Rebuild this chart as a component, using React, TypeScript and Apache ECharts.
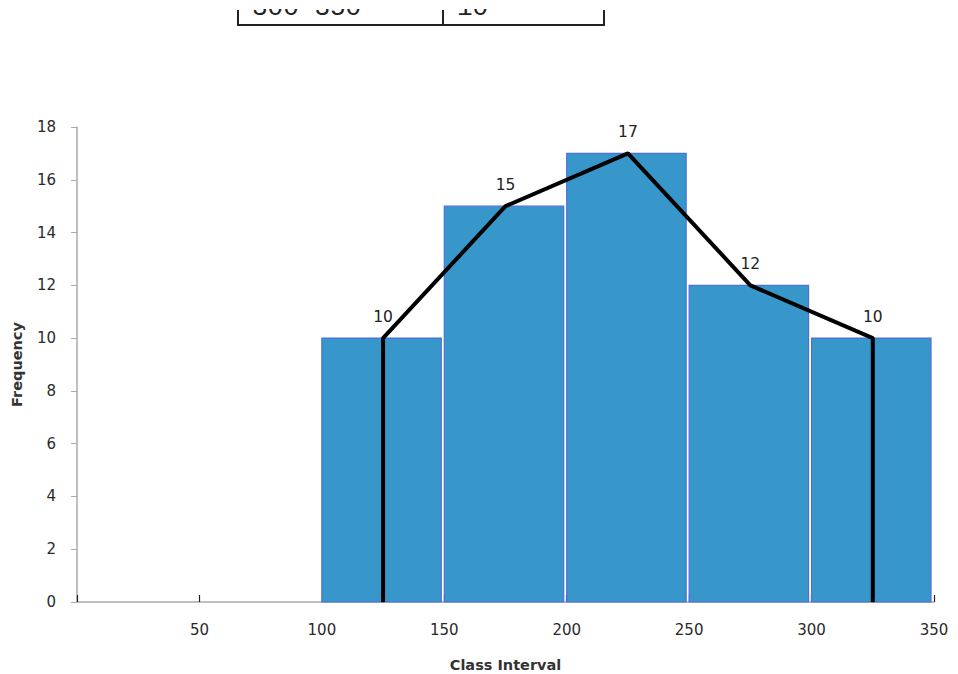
import React, { useEffect, useRef } from "react";
import * as echarts from "echarts";

const classStarts = [100, 150, 200, 250, 300];
const classEnds = [150, 200, 250, 300, 350];
const frequencies = [10, 15, 17, 12, 10];
const midpoints = [125, 175, 225, 275, 325];
const xTicks = [0, 50, 100, 150, 200, 250, 300, 350];
const yTicks = [0, 2, 4, 6, 8, 10, 12, 14, 16, 18];
const tableRowClass = "300-350";
const tableRowFreq = "10";

export default function App() {
  const ref = useRef<HTMLDivElement>(null);
  useEffect(() => {
    document.body.style.margin = "0";
    const chart = echarts.init(ref.current!, null, { renderer: "svg" });
    const barData = classStarts.map((s, i) => [s, classEnds[i], frequencies[i]]);
    const polyData: any[] = [{ value: [midpoints[0], 0], label: { show: false } }];
    midpoints.forEach((m, i) => polyData.push({ value: [m, frequencies[i]] }));
    polyData.push({ value: [midpoints[midpoints.length - 1], 0], label: { show: false } });
    const font = "DejaVu Sans";
    chart.setOption({
      animation: false,
      backgroundColor: "#ffffff",
      grid: { left: 77, right: 24, top: 127, bottom: 72, containLabel: false, outerBoundsMode: "none" },
      xAxis: {
        type: "value",
        min: xTicks[0],
        max: xTicks[xTicks.length - 1],
        interval: 50,
        name: "Class Interval",
        nameLocation: "middle",
        nameGap: 55,
        nameTextStyle: { fontFamily: font, fontSize: 14.5, fontWeight: "bold", color: "#333" },
        axisLine: { lineStyle: { color: "#aaaaaa", width: 1.5 } },
        axisTick: { inside: true, length: 7, lineStyle: { color: "#222", width: 1.2 } },
        axisLabel: {
          margin: 20,
          fontFamily: font,
          fontSize: 15,
          color: "#2a2a2a",
          formatter: (v: number) => (v === 0 ? "" : String(v)),
        },
        splitLine: { show: false },
      },
      yAxis: {
        type: "value",
        min: yTicks[0],
        max: yTicks[yTicks.length - 1],
        interval: 2,
        name: "Frequency",
        nameLocation: "middle",
        nameGap: 53,
        nameRotate: 90,
        nameTextStyle: { fontFamily: font, fontSize: 14.5, fontWeight: "bold", color: "#333" },
        axisLine: { show: true, lineStyle: { color: "#aaaaaa", width: 1.5 } },
        axisTick: { show: true, length: 6, lineStyle: { color: "#aaaaaa" } },
        axisLabel: { margin: 21, fontFamily: font, fontSize: 15, color: "#2a2a2a" },
        splitLine: { show: false },
      },
      series: [
        {
          type: "custom",
          data: barData,
          z: 3,
          renderItem: (params: any, api: any) => {
            const p0 = api.coord([api.value(0), 0]);
            const p1 = api.coord([api.value(1), api.value(2)]);
            return {
              type: "rect",
              shape: { x: p0[0], y: p1[1], width: p1[0] - p0[0] - 3, height: p0[1] - p1[1] },
              style: { fill: "#3797cb", stroke: "#4f6fd8", lineWidth: 1.2 },
            };
          },
        },
        {
          type: "line",
          data: polyData,
          z: 5,
          symbol: "circle",
          symbolSize: 1,
          showSymbol: true,
          itemStyle: { color: "#000" },
          clip: false,
          lineStyle: { color: "#000", width: 4 },
          label: {
            show: true,
            position: "top",
            distance: 13,
            fontFamily: font,
            fontSize: 15.5,
            color: "#222",
            formatter: (p: any) => String(p.value[1]),
          },
        },
      ],
      graphic: [
        {
          type: "text",
          style: { text: tableRowClass, x: 252, y: 21, font: "26px 'Liberation Mono'", fill: "#222", verticalAlign: "bottom" },
        },
        {
          type: "text",
          style: { text: tableRowFreq, x: 457, y: 21, font: "26px 'Liberation Mono'", fill: "#222", verticalAlign: "bottom" },
        },
        { type: "line", shape: { x1: 238, y1: 10, x2: 238, y2: 25 }, style: { stroke: "#222", lineWidth: 2 } },
        { type: "line", shape: { x1: 443, y1: 10, x2: 443, y2: 25 }, style: { stroke: "#222", lineWidth: 2 } },
        { type: "line", shape: { x1: 604, y1: 10, x2: 604, y2: 25 }, style: { stroke: "#222", lineWidth: 2 } },
        { type: "line", shape: { x1: 237, y1: 25, x2: 605, y2: 25 }, style: { stroke: "#222", lineWidth: 2 } },
      ],
    });
    return () => chart.dispose();
  }, []);
  return (
    <div style={{ position: "relative", width: 958, height: 674 }}>
      <div ref={ref} style={{ width: 958, height: 674 }} />
      <div style={{ position: "absolute", left: 0, top: 0, width: 958, height: 9, background: "#ffffff" }} />
    </div>
  );
}
